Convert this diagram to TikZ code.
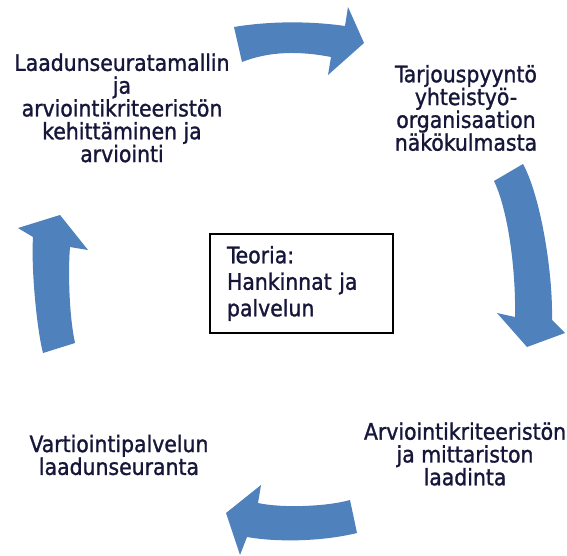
\documentclass[tikz,border=0pt]{standalone}
\usepackage{fontspec}
\setmainfont{DejaVu Sans Condensed}[FakeBold=1.2]
\definecolor{arrowblue}{HTML}{4F81BD}
\definecolor{tekstivari}{HTML}{16163A}

\begin{document}
\begin{tikzpicture}[x=1pt,y=-1pt,
  vaihe/.style={align=center,font=\fontsize{22.7}{22.8}\selectfont,text=tekstivari,inner sep=0pt},
  nuoli/.style={fill=arrowblue}]
  \clip (0,0) rectangle (567,556);
  \fill[white] (0,0) rectangle (567,556);
  \fill[nuoli] (234,27) .. controls (270,21) and (310,21) .. (345,26) -- (348,7) -- (364,43) -- (328,75) -- (331,57) .. controls (300,51) and (270,51) .. (242,62) -- cycle;
  \fill[nuoli] (523,164) .. controls (540,195) and (553,270) .. (552,320) -- (565,333) -- (527,347) -- (497,313) -- (515,317) .. controls (516,270) and (508,210) .. (494,181) -- cycle;
  \fill[nuoli] (357,533) .. controls (320,542) and (275,542) .. (247,537) -- (240,555) -- (226,513) -- (261,485) -- (258,503) .. controls (280,508) and (325,507) .. (350,500) -- cycle;
  \fill[nuoli] (75,343) .. controls (69,315) and (68,270) .. (70,247) -- (88,250) -- (60,215) -- (18,228) -- (33,237) .. controls (31,270) and (37,330) .. (43,353) -- cycle;
  \node[vaihe] (malli) at (122,108) {Laadunseuratamallin\\ja\\arviointikriteeristön\\kehittäminen ja\\arviointi};
  \node[vaihe] (tarjous) at (466,108) {Tarjouspyyntö\\yhteistyö-\\organisaation\\näkökulmasta};
  \node[vaihe] (mittaristo) at (465,454) {Arviointikriteeristön\\ja mittariston\\laadinta};
  \node[vaihe] (seuranta) at (119,455) {Vartiointipalvelun\\laadunseuranta};
  \node[draw,line width=1.8pt,minimum width=183pt,minimum height=99pt,text width=149pt,inner xsep=17pt,align=left,text=tekstivari,font=\fontsize{22.7}{26.5}\selectfont] (teoria) at (301.5,283.5) {Teoria:\\Hankinnat ja\\palvelun};
\end{tikzpicture}
\end{document}
